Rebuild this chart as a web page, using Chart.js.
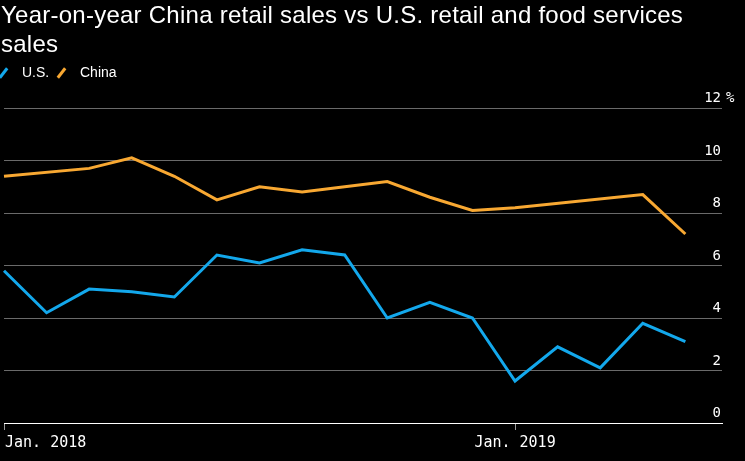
<!DOCTYPE html>
<html>
<head>
<meta charset="utf-8">
<script src="https://cdn.jsdelivr.net/npm/chart.js@4/dist/chart.umd.min.js"></script>
<style>
  html, body { margin: 0; padding: 0; background: #000; }
  #wrap { position: relative; width: 745px; height: 461px; overflow: hidden; background: #000; }
  #chart { position: absolute; left: 0; top: 0; }
  .title {
    position: absolute; left: 1px; top: 0; width: 705px;
    font: 24px "Liberation Sans", Arial, sans-serif; line-height: 29px;
    color: #fff; letter-spacing: 0.25px;
  }
  .legend {
    position: absolute; left: 0; top: 64px; height: 20px;
    font: 14px "Liberation Sans", Arial, sans-serif; line-height: 16px; color: #fff;
  }
  .legend span { position: absolute; white-space: nowrap; }
  .legend .mark { width: 3px; height: 12px; top: 3px; transform: rotate(38deg); }
</style>
</head>
<body>
<div id="wrap">
  <canvas id="chart" width="745" height="461"></canvas>
  <div class="title">Year-on-year China retail sales vs U.S. retail and food services sales</div>
  <div class="legend">
    <span class="mark" style="left:2px;background:#13a8ec"></span>
    <span style="left:22px">U.S.</span>
    <span class="mark" style="left:60px;background:#f8a832"></span>
    <span style="left:80px">China</span>
  </div>
</div>
<script>
// months counted from Jan. 2018
const months = [0, 1, 2, 3, 4, 5, 6, 7, 8, 9, 10, 11, 12, 13, 14, 15, 16];
const usSales = [5.8, 4.2, 5.1, 5.0, 4.8, 6.4, 6.1, 6.6, 6.4, 4.0, 4.6, 4.0, 1.6, 2.9, 2.1, 3.8, 3.1];
const chinaSales = [9.4, null, 9.7, 10.1, 9.4, 8.5, 9.0, 8.8, 9.0, 9.2, 8.6, 8.1, 8.2, null, null, 8.7, 7.2];
const xTicks = [0, 12];
const xTickLabels = ['Jan. 2018', 'Jan. 2019'];
const yTicks = [0, 2, 4, 6, 8, 10, 12];

const US_COLOR = '#13a8ec';
const CHINA_COLOR = '#f8a832';

const toPoints = (vals) => months.map((m, i) => ({ x: m, y: vals[i] }));

// tick labels drawn on top of the grid, like the original
const axisLabels = {
  id: 'axisLabels',
  afterDraw(chart) {
    const { ctx, chartArea, scales } = chart;
    ctx.save();
    ctx.fillStyle = '#fff';
    ctx.textBaseline = 'alphabetic';

    ctx.font = '14px "DejaVu Sans Mono", monospace';
    ctx.textAlign = 'right';
    yTicks.forEach(v => {
      const y = scales.y.getPixelForValue(v) - 6;
      ctx.fillText(String(v), chartArea.right - 1, y);
      if (v === yTicks[yTicks.length - 1]) {
        ctx.textAlign = 'left';
        ctx.fillText('%', chartArea.right + 4, y);
        ctx.textAlign = 'right';
      }
    });

    ctx.font = '15px "DejaVu Sans Mono", monospace';
    xTicks.forEach((v, i) => {
      const x = scales.x.getPixelForValue(v);
      ctx.textAlign = i === 0 ? 'left' : 'center';
      ctx.fillText(xTickLabels[i], i === 0 ? x + 1 : x, chartArea.bottom + 24);
    });
    ctx.restore();
  }
};

new Chart(document.getElementById('chart'), {
  type: 'line',
  data: {
    datasets: [
      {
        label: 'U.S.',
        data: toPoints(usSales),
        borderColor: US_COLOR,
        borderWidth: 3,
        pointRadius: 0,
        tension: 0,
        clip: false
      },
      {
        label: 'China',
        data: toPoints(chinaSales),
        borderColor: CHINA_COLOR,
        borderWidth: 3,
        pointRadius: 0,
        tension: 0,
        spanGaps: true,
        clip: false
      }
    ]
  },
  options: {
    responsive: false,
    animation: false,
    layout: { padding: { left: 4, right: 23, top: 108, bottom: 31 } },
    plugins: {
      legend: { display: false },
      tooltip: { enabled: false }
    },
    scales: {
      x: {
        type: 'linear',
        min: 0,
        max: 16.86,
        afterBuildTicks: (scale) => { scale.ticks = xTicks.map(v => ({ value: v })); },
        ticks: { display: false },
        grid: { drawOnChartArea: false, drawTicks: true, tickLength: 7, color: '#9a9a9a' },
        border: { display: true, color: '#fff', width: 1 }
      },
      y: {
        position: 'right',
        min: 0,
        max: 12,
        afterBuildTicks: (scale) => { scale.ticks = yTicks.map(v => ({ value: v })); },
        ticks: { display: false },
        grid: {
          drawTicks: false,
          color: (c) => c.tick && c.tick.value === 0 ? '#fff' : '#6a6a6a'
        },
        border: { display: false }
      }
    }
  },
  plugins: [axisLabels]
});
</script>
</body>
</html>
